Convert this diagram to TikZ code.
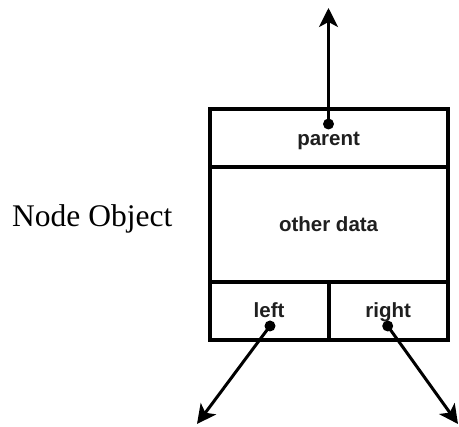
\documentclass[tikz,border=0pt]{standalone}
\usepackage{fontspec}
\setmainfont{Liberation Serif}
\newfontfamily\cellfont{Liberation Sans}
\usetikzlibrary{arrows.meta}
\tikzset{
  cell/.style={draw, line width=4pt, inner sep=0pt, outer sep=0pt, anchor=center},
  celltext/.style={font=\cellfont\bfseries\fontsize{20.5}{24}\selectfont, text=black!88, anchor=base, inner sep=0pt},
  ptr/.style={line width=3pt, -{Stealth[length=19pt, width=19pt, inset=5pt]}},
  dot/.style={circle, fill=black, inner sep=0pt, minimum size=11pt}
}
\begin{document}
\begin{tikzpicture}[x=1pt, y=-1pt]
\useasboundingbox (0,0) rectangle (459,427);
% cells
\node[cell, minimum width=238.2pt, minimum height=58pt] (parentcell) at (328.6,138) {};
\node[cell, minimum width=238.2pt, minimum height=115pt] (othercell) at (328.6,224.5) {};
\node[cell, minimum width=119.2pt, minimum height=58pt] (leftcell) at (269.1,311) {};
\node[cell, minimum width=119pt, minimum height=58pt] (rightcell) at (388.1,311) {};
% texts
\node[celltext] (ptext) at (328.6,146) {parent};
\node[celltext] (otext) at (328.6,232) {other data};
\node[celltext] (ltext) at (269.1,318) {left};
\node[celltext] (rtext) at (388.1,318) {right};
\node[font=\fontsize{31.5}{36}\selectfont, anchor=base west, inner sep=0pt] (title) at (12,227) {Node Object};
% pointer dots
\node[dot] (pdot) at (328.5,124) {};
\node[dot] (ldot) at (270,326) {};
\node[dot] (rdot) at (387.7,326) {};
% arrow ends
\coordinate (pend) at (328.5,8);
\coordinate (lend) at (197,424);
\coordinate (rend) at (458,424);
\draw[ptr] (pdot.center) -- (pend);
\draw[ptr] (ldot.center) -- (lend);
\draw[ptr] (rdot.center) -- (rend);
\end{tikzpicture}
\end{document}
